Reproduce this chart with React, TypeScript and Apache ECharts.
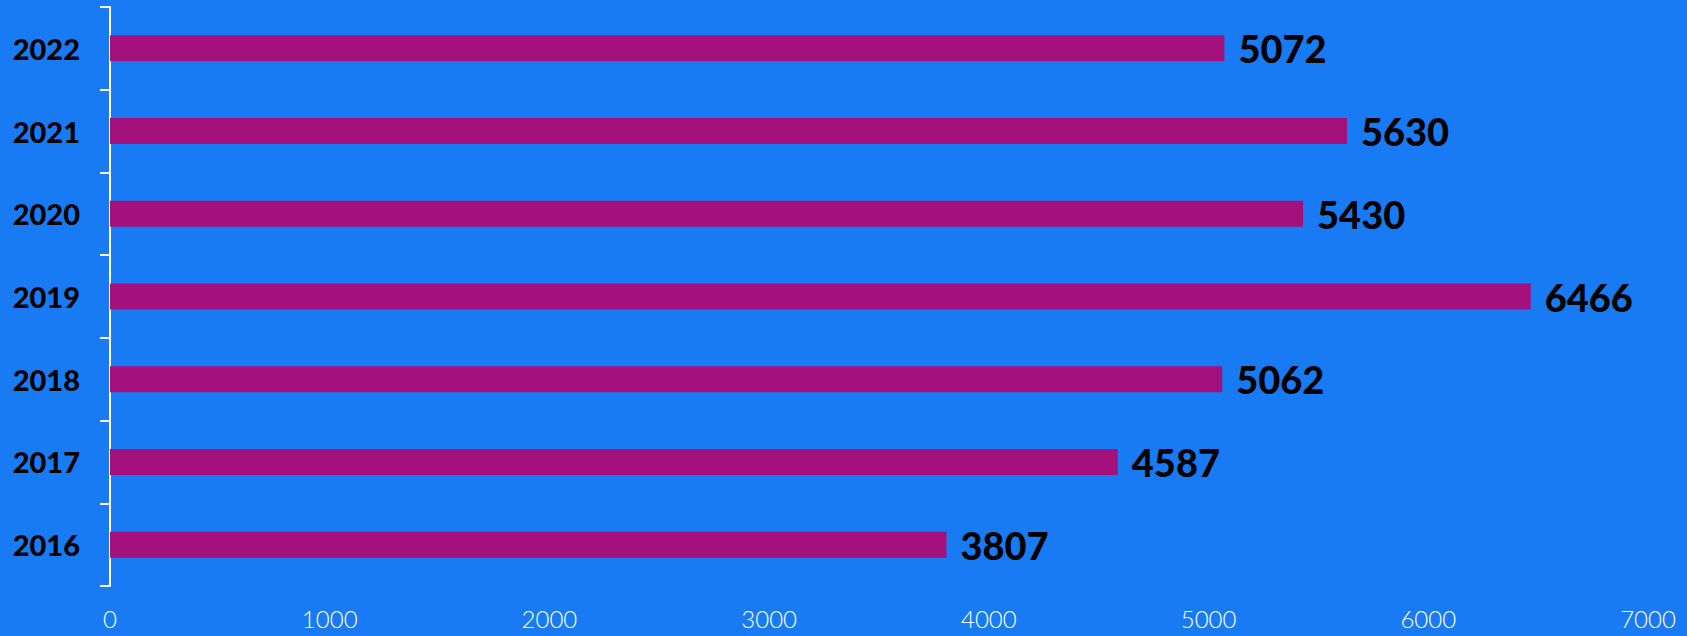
import React, { useEffect, useRef } from "react";
import * as echarts from "echarts";

const years = ["2016", "2017", "2018", "2019", "2020", "2021", "2022"];
const values = [3807, 4587, 5062, 6466, 5430, 5630, 5072];
const xTicks = [0, 1000, 2000, 3000, 4000, 5000, 6000, 7000];

const BG = "#187bf3";
const BAR = "#a4107c";

export default function App() {
  const ref = useRef<HTMLDivElement>(null);
  useEffect(() => {
    document.body.style.margin = "0";
    document.body.style.background = BG;
    const chart = echarts.init(ref.current!, null, { renderer: "svg" });
    chart.setOption({
      animation: false,
      backgroundColor: BG,
      grid: { left: 110, right: 39, top: 7, bottom: 50, containLabel: false },
      xAxis: {
        type: "value",
        min: xTicks[0],
        max: xTicks[xTicks.length - 1],
        interval: 1000,
        axisLine: { show: false },
        axisTick: { show: false },
        splitLine: { show: false },
        axisLabel: {
          color: "#ffffff",
          fontFamily: "Lato",
          fontWeight: 300,
          fontSize: 24,
          margin: 20,
          formatter: (v: number) => String(v),
        },
      },
      yAxis: {
        type: "category",
        data: years,
        axisLine: { show: true, lineStyle: { color: "#ffffff", width: 2 } },
        axisTick: { show: true, length: 10, lineStyle: { color: "#ffffff", width: 2 } },
        splitLine: { show: false },
        axisLabel: {
          color: "#000000",
          fontFamily: "Lato",
          fontWeight: 900,
          fontSize: 29,
          margin: 30,
        },
      },
      series: [
        {
          type: "bar",
          data: values,
          barWidth: 26,
          itemStyle: { color: BAR },
          label: {
            show: true,
            position: "right",
            distance: 14,
            color: "#000000",
            fontFamily: "Lato",
            fontWeight: 900,
            fontSize: 38,
          },
        },
      ],
    });
    return () => chart.dispose();
  }, []);
  return (
    <div
      ref={ref}
      style={{ position: "absolute", left: 0, top: 0, width: 1687, height: 636 }}
    />
  );
}
